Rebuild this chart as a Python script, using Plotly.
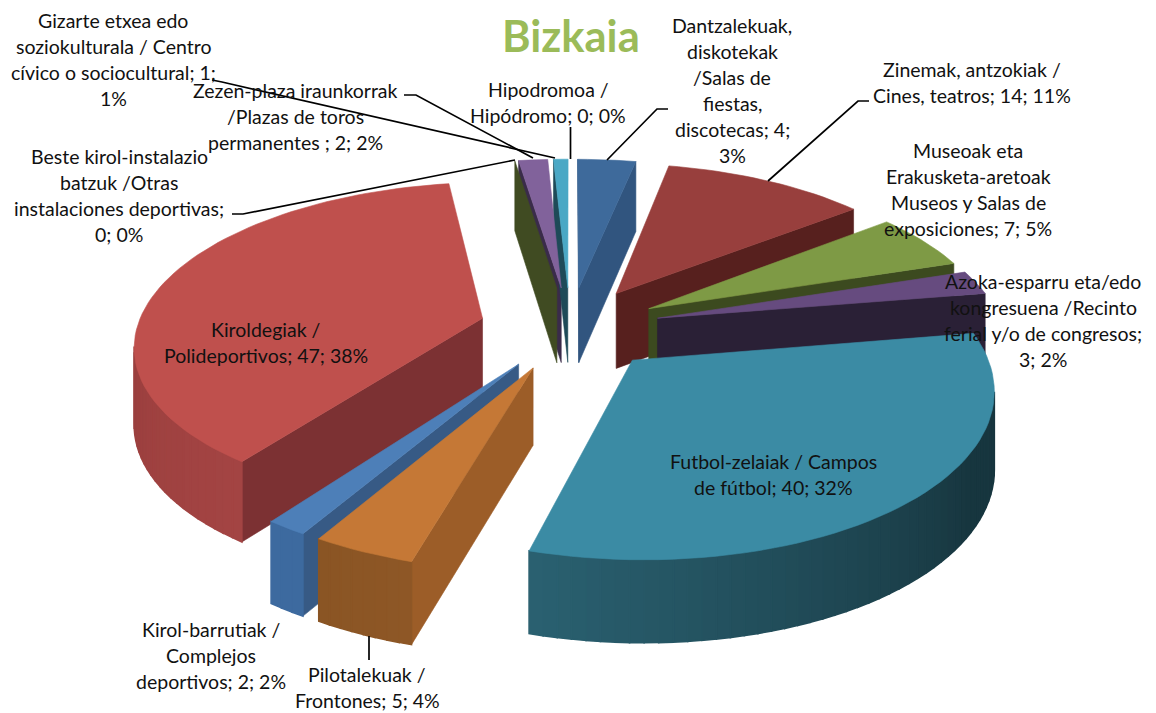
import numpy as np
import plotly.graph_objects as go

# ---- data, clockwise from 12 o'clock ----
categories = ["Hipodromoa", "Dantzalekuak", "Zinemak", "Museoak", "Azoka", "Futbol",
              "Pilotalekuak", "Kirol-barrutiak", "Kiroldegiak", "Beste", "Zezen", "Gizarte"]
values = [0, 4, 14, 7, 3, 40, 5, 2, 47, 0, 2, 1]

top_colors = ["#4bacc6", "#3e6a9b", "#983f3d", "#7e9a45", "#664b7f", "#3b8ba4",
              "#c57836", "#4d7fb8", "#bf504d", "#404b22", "#81629b", "#4aa8c5"]
cut_colors = ["#1e4a58", "#31557f", "#57201e", "#3c4a1f", "#2a2036", "#26596a",
              "#9c5d28", "#375a85", "#7c3133", "#404b22", "#3a2b4a", "#1e4a58"]
wall_start = ["#1e4a58", "#31557f", "#57201e", "#3c4a1f", "#2a2036", "#17363f",
              "#8e5726", "#3d6a9f", "#a34443", "#404b22", "#3a2b4a", "#1e4a58"]
wall_end = ["#1e4a58", "#31557f", "#57201e", "#3c4a1f", "#2a2036", "#2a6070",
            "#8a5524", "#3d6a9f", "#8a3533", "#404b22", "#3a2b4a", "#1e4a58"]
faces_order = [10, 9, 11, 0, 1, 2, 3, 4, 8, 7, 6, 5]

label_lines = [
    (["Hipodromoa /", "Hipódromo; 0; 0%"], 548, 89),
    (["Dantzalekuak,", "diskotekak", "/Salas de", "fiestas,", "discotecas; 4;", "3%"], 732, 25),
    (["Zinemak, antzokiak /", "Cines, teatros; 14; 11%"], 972, 69),
    (["Museoak eta", "Erakusketa-aretoak", "Museos y Salas de", "exposiciones; 7; 5%"], 968, 150),
    (["Azoka-esparru eta/edo", "kongresuena /Recinto", "ferial y/o de congresos;", "3; 2%"], 1043, 281),
    (["Futbol-zelaiak / Campos", "de fútbol; 40; 32%"], 773, 461),
    (["Pilotalekuak /", "Frontones; 5; 4%"], 367, 674),
    (["Kirol-barrutiak /", "Complejos", "deportivos; 2; 2%"], 211, 629),
    (["Kiroldegiak /", "Polideportivos; 47; 38%"], 266, 329),
    (["Beste kirol-instalazio", "batzuk /Otras", "instalaciones deportivas;", "0; 0%"], 119, 156),
    (["Zezen-plaza iraunkorrak", "/Plazas de toros", "permanentes ; 2; 2%"], 295, 90),
    (["Gizarte etxea edo", "soziokulturala / Centro", "cívico o sociocultural; 1;", "1%"], 113, 20),
]
leaders = [
    [(570.5, 127), (570.5, 159)],
    [(668, 109), (657, 109), (607, 160)],
    [(869, 101), (858, 101), (768, 181)],
    [(369, 636), (369, 660)],
    [(232, 214), (243, 214), (515, 160)],
    [(404, 95), (416, 95), (533, 158)],
    [(212, 80), (222, 82), (555, 158)],
]

# ---- tilted, perspective projection of the exploded pie ----
CX, CY, A, B, P, PULL = 570, 328, 345.5, 159, 0.15, 0.263


def project(X, Y, lower=False):
    w = 1 + P * Y
    sx = CX + A * X / w
    sy = CY - B * Y / w
    if lower:
        sy = sy + 76 / (1 + 0.07 * Y)
    return sx, sy


def mix(c1, c2, t):
    a = [int(c1[i:i + 2], 16) for i in (1, 3, 5)]
    b = [int(c2[i:i + 2], 16) for i in (1, 3, 5)]
    return "#%02x%02x%02x" % tuple(int(round(u + (v - u) * t)) for u, v in zip(a, b))


edges = np.radians(np.concatenate([[0], np.cumsum(values)]) * 360 / sum(values))
fig = go.Figure()


def poly(x, y, color, width=1.0):
    fig.add_trace(go.Scatter(x=x, y=y, mode="lines", fill="toself", fillcolor=color,
                             line=dict(color=color, width=width), hoverinfo="skip",
                             showlegend=False))


def quad(p, q, color, width=0.6):
    x0, y0 = project(*p)
    x1, y1 = project(*q)
    x2, y2 = project(*q, lower=True)
    x3, y3 = project(*p, lower=True)
    poly(np.array([x0, x1, x2, x3, x0]), np.array([y0, y1, y2, y3, y0]), color, width)


def outline(i):
    a0, a1 = edges[i], edges[i + 1]
    mid = (a0 + a1) / 2
    ox, oy = PULL * np.sin(mid), PULL * np.cos(mid)
    n = max(2, int(np.degrees(a1 - a0) / 2) + 2)
    ang = np.linspace(a0, a1, n)
    return ox, oy, ox + np.sin(ang), oy + np.cos(ang)


def draw_faces(i):
    ox, oy, ax_, ay_ = outline(i)
    apex = (ox, oy)
    first = (ax_[0], ay_[0])
    last = (ax_[-1], ay_[-1])
    if project(*first)[0] < project(*apex)[0] - 0.5:
        quad(apex, first, cut_colors[i])
    if project(*apex)[0] < project(*last)[0] - 0.5:
        quad(last, apex, cut_colors[i])
    n = len(ax_)
    for k in range(n - 1):
        p, q = (ax_[k], ay_[k]), (ax_[k + 1], ay_[k + 1])
        if project(*q)[0] < project(*p)[0]:
            t = min(1.0, max(0.0, (k / max(1, n - 2) - 0.35) / 0.65)) if i == 5 else k / max(1, n - 2)
            quad(p, q, mix(wall_start[i], wall_end[i], t), width=1.6)


def draw_top(i):
    if values[i] == 0:
        return
    ox, oy, ax_, ay_ = outline(i)
    sx, sy = project(np.concatenate([[ox], ax_, [ox]]), np.concatenate([[oy], ay_, [oy]]))
    poly(sx, sy, top_colors[i], 0.6)


# the three narrow back slices: all their faces first, then their tops
back = faces_order[:3]
for i in back:
    draw_faces(i)
for i in back:
    draw_top(i)
for i in faces_order[3:]:
    draw_faces(i)
    draw_top(i)

for pts in leaders:
    fig.add_trace(go.Scatter(x=[p[0] for p in pts], y=[p[1] for p in pts], mode="lines",
                             line=dict(color="black", width=1.7), hoverinfo="skip",
                             showlegend=False))

annotations = []
for lines, cx, y0 in label_lines:
    for j, text in enumerate(lines):
        annotations.append(dict(x=cx, y=y0 + j * 26, text=text, showarrow=False,
                                xanchor="center", yanchor="middle",
                                font=dict(family="Lato", size=19.5, color="#111111")))
annotations.append(dict(x=570.5, y=35, text="<b>Bizkaia</b>", showarrow=False,
                        xanchor="center", yanchor="middle",
                        font=dict(family="Lato", size=43.5, color="#9bbb59")))

fig.update_layout(
    width=1156, height=713, margin=dict(l=0, r=0, t=0, b=0),
    paper_bgcolor="white", plot_bgcolor="white", annotations=annotations,
    xaxis=dict(range=[0, 1156], visible=False, fixedrange=True),
    yaxis=dict(range=[713, 0], visible=False, fixedrange=True),
)
fig.write_html("out.html", config=dict(displayModeBar=False),
               post_script="document.body.style.margin='0';document.body.style.overflow='hidden';")
